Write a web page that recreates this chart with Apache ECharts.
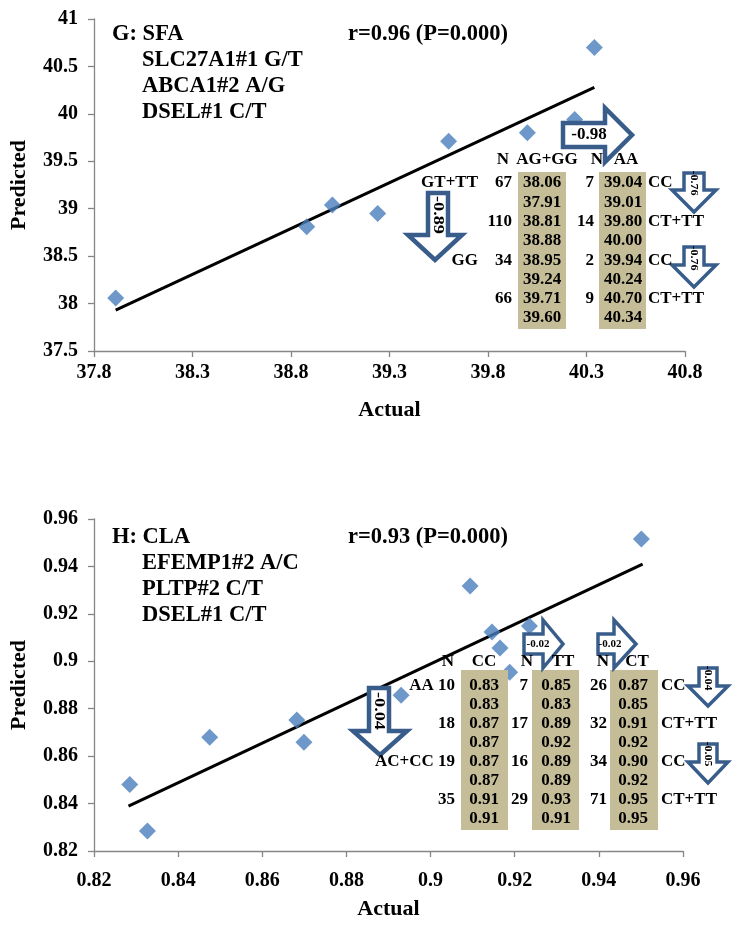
<!DOCTYPE html>
<html>
<head>
<meta charset="utf-8">
<script src="https://cdn.jsdelivr.net/npm/echarts@6/dist/echarts.min.js"></script>
<style>html,body{margin:0;padding:0;background:#fff}#c{width:732px;height:925px}</style>
</head>
<body>
<div id="c"></div>
<script>
// ---------- DATA ----------
// Panel G (SFA)
const gActual    = [37.91, 38.88, 39.24, 39.60, 39.01, 40.00, 40.24, 40.34];
const gPredicted = [38.06, 38.81, 38.95, 39.71, 39.04, 39.80, 39.94, 40.70];
const gFit       = [[37.91, 37.93], [40.34, 40.28]];
const gTitle     = ['G: SFA', 'SLC27A1#1 G/T', 'ABCA1#2 A/G', 'DSEL#1 C/T'];
const gStat      = 'r=0.96 (P=0.000)';
const gHeader    = ['N', 'AG+GG', 'N', 'AA'];
const gLeftLab   = ['GT+TT', '', 'GG', ''];
const gN1        = ['67', '110', '34', '66'];
const gCol1      = ['38.06', '37.91', '38.81', '38.88', '38.95', '39.24', '39.71', '39.60'];
const gN2        = ['7', '14', '2', '9'];
const gCol2      = ['39.04', '39.01', '39.80', '40.00', '39.94', '40.24', '40.70', '40.34'];
const gRightLab  = ['CC', 'CT+TT', 'CC', 'CT+TT'];
const gArrowTxt  = ['-0.98', '-0.89', '-0.76', '-0.76'];

// Panel H (CLA)
const hActual    = [0.8285, 0.8327, 0.8475, 0.8682, 0.8699, 0.8930, 0.9094, 0.9146, 0.9165, 0.9188, 0.9235, 0.9501];
const hPredicted = [0.8480, 0.8284, 0.8680, 0.8752, 0.8659, 0.8857, 0.9317, 0.9123, 0.9056, 0.8954, 0.9149, 0.9516];
const hFit       = [[0.8282, 0.8389], [0.9504, 0.9410]];
const hTitle     = ['H: CLA', 'EFEMP1#2 A/C', 'PLTP#2 C/T', 'DSEL#1 C/T'];
const hStat      = 'r=0.93 (P=0.000)';
const hHeader    = ['N', 'CC', 'N', 'TT', 'N', 'CT'];
const hN1        = ['AA 10', '18', 'AC+CC 19', '35'];
const hCol1      = ['0.83', '0.83', '0.87', '0.87', '0.87', '0.87', '0.91', '0.91'];
const hN2        = ['7', '17', '16', '29'];
const hCol2      = ['0.85', '0.83', '0.89', '0.92', '0.89', '0.89', '0.93', '0.91'];
const hN3        = ['26', '32', '34', '71'];
const hCol3      = ['0.87', '0.85', '0.91', '0.92', '0.90', '0.92', '0.95', '0.95'];
const hRightLab  = ['CC', 'CT+TT', 'CC', 'CT+TT'];
const hArrowTxt  = ['-0.02', '-0.02', '-0.04', '-0.04', '-0.05'];

const xTitle = 'Actual';
const yTitle = 'Predicted';

// ---------- STYLE HELPERS ----------
const FF = '"Liberation Serif", "Times New Roman", serif';
const AX = '#868686';
const ARC = '#385d8a';
const TAN = '#c4bd97';

function txt(text, x, y, size, align, extra) {
  return Object.assign({
    type: 'text', x: x, y: y, z: 120,
    style: { text: text, fontSize: size, fontWeight: 'bold', fontFamily: FF, fill: '#000',
             textAlign: align || 'center', textVerticalAlign: 'middle' }
  }, extra || {});
}
function rotTxt(text, x, y, size, sc) {
  return txt(text, x, y, size, 'center', { rotation: -Math.PI / 2, scaleX: sc || 1 });
}
function rect(x0, y0, x1, y1) {
  return { type: 'rect', z: 90, shape: { x: x0, y: y0, width: x1 - x0, height: y1 - y0 },
           style: { fill: TAN } };
}
function rightArrow(x0, xh, xt, by0, by1, hy0, hy1, lw) {
  return { type: 'polygon', z: 110,
    shape: { points: [[x0, by0], [xh, by0], [xh, hy0], [xt, (hy0 + hy1) / 2], [xh, hy1], [xh, by1], [x0, by1]] },
    style: { fill: '#fff', stroke: ARC, lineWidth: lw, lineJoin: 'miter' } };
}
function downArrow(bx0, bx1, y0, yh, hx0, hx1, yt, lw) {
  return { type: 'polygon', z: 110,
    shape: { points: [[bx0, y0], [bx1, y0], [bx1, yh], [hx1, yh], [(hx0 + hx1) / 2, yt], [hx0, yh], [bx0, yh]] },
    style: { fill: '#fff', stroke: ARC, lineWidth: lw, lineJoin: 'miter' } };
}

const g = [];
// Titles
function titleBlock(lines, stat, y0) {
  g.push(txt(lines[0], 112, y0, 22.5, 'left'));
  for (let i = 1; i < lines.length; i++) g.push(txt(lines[i], 142, y0 + 26 * i, 22.5, 'left'));
  g.push(txt(stat, 348, y0, 22.5, 'left'));
}
titleBlock(gTitle, gStat, 34);
titleBlock(hTitle, hStat, 537);

// Table G
g.push(rect(518, 172, 566, 329));
g.push(rect(599, 172, 646, 329));
g.push(txt(gHeader[0], 503, 160, 17));
g.push(txt(gHeader[1], 547, 160, 17));
g.push(txt(gHeader[2], 597, 160, 17));
g.push(txt(gHeader[3], 626, 160, 17));
for (let i = 0; i < 8; i++) {
  const y = 183 + 19.3 * i;
  g.push(txt(gCol1[i], 542, y, 17));
  g.push(txt(gCol2[i], 623, y, 17));
}
for (let i = 0; i < 4; i++) {
  const y = 183 + 19.3 * 2 * i;
  if (gLeftLab[i]) g.push(txt(gLeftLab[i], 478, y, 17, 'right'));
  g.push(txt(gN1[i], 512, y, 17, 'right'));
  g.push(txt(gN2[i], 594, y, 17, 'right'));
  g.push(txt(gRightLab[i], 648, y, 17, 'left'));
}
// Arrows G
g.push(rightArrow(563, 605, 632, 123, 147, 108, 162, 4.5));
g.push(txt(gArrowTxt[0], 589, 135, 17));
g.push(downArrow(428, 448, 193, 235, 408, 462, 260, 4.5));
g.push(rotTxt(gArrowTxt[1], 438, 215, 14, 1.3));
g.push(downArrow(684, 704, 173, 190, 672, 716, 212, 3.5));
g.push(rotTxt(gArrowTxt[2], 694, 183, 11, 1.1));
g.push(downArrow(684, 704, 247, 265, 672, 716, 287, 3.5));
g.push(rotTxt(gArrowTxt[3], 694, 258, 11, 1.1));

// Table H
g.push(rect(461, 670, 508, 830));
g.push(rect(532, 670, 579, 830));
g.push(rect(610, 670, 658, 830));
const hHx = [448, 484, 527, 563, 603, 637];
for (let k = 0; k < 6; k++) g.push(txt(hHeader[k], hHx[k], 662, 17));
for (let i = 0; i < 8; i++) {
  const y = 686 + 19 * i;
  g.push(txt(hCol1[i], 484, y, 17));
  g.push(txt(hCol2[i], 556, y, 17));
  g.push(txt(hCol3[i], 633, y, 17));
}
for (let i = 0; i < 4; i++) {
  const y = 686 + 38 * i;
  g.push(txt(hN1[i], 455, y, 17, 'right'));
  g.push(txt(hN2[i], 528, y, 17, 'right'));
  g.push(txt(hN3[i], 607, y, 17, 'right'));
  g.push(txt(hRightLab[i], 661, y, 17, 'left'));
}
// Arrows H
g.push(rightArrow(524, 543, 563, 634, 654, 620, 668, 3.5));
g.push(txt(hArrowTxt[0], 538, 644, 11));
g.push(rightArrow(598, 614, 636, 634, 654, 620, 668, 3.5));
g.push(txt(hArrowTxt[1], 610, 644, 11));
g.push(downArrow(369, 389, 688, 731, 353, 407, 755, 4.5));
g.push(rotTxt(hArrowTxt[2], 379, 711, 14, 1.3));
g.push(downArrow(699, 717, 668, 686, 688, 728, 706, 3.5));
g.push(rotTxt(hArrowTxt[3], 708, 678, 11, 1.1));
g.push(downArrow(699, 717, 744, 762, 688, 728, 783, 3.5));
g.push(rotTxt(hArrowTxt[4], 708, 754, 11, 1.1));

// ---------- AXES ----------
const lblStyle = { color: '#000', fontSize: 20, fontWeight: 'bold', fontFamily: FF };
const nameStyle = { color: '#000', fontSize: 22, fontWeight: 'bold', fontFamily: FF };
function xAx(idx, min, max, step, dec, margin, gap) {
  return { type: 'value', gridIndex: idx, min: min, max: max, interval: step,
    name: xTitle, nameLocation: 'middle', nameGap: gap, nameTextStyle: nameStyle,
    axisLine: { show: true, lineStyle: { color: AX, width: 1.3 } },
    axisTick: { show: true, length: 6, lineStyle: { color: AX, width: 1.3 } },
    splitLine: { show: false },
    axisLabel: Object.assign({ margin: margin, formatter: v => String(+(+v).toFixed(dec)) }, lblStyle) };
}
function yAx(idx, min, max, step, dec) {
  return { type: 'value', gridIndex: idx, min: min, max: max, interval: step,
    name: yTitle, nameLocation: 'middle', nameGap: 64, nameRotate: 90, nameTextStyle: nameStyle,
    axisLine: { show: true, lineStyle: { color: AX, width: 1.3 } },
    axisTick: { show: true, length: 6, lineStyle: { color: AX, width: 1.3 } },
    splitLine: { show: false },
    axisLabel: Object.assign({ margin: 16, formatter: v => String(+(+v).toFixed(dec)) }, lblStyle) };
}

const pairs = (xs, ys) => xs.map((x, i) => [x, ys[i]]);

const option = {
  animation: false,
  backgroundColor: '#fff',
  grid: [
    { left: 89, top: 19, width: 596, height: 332 },
    { left: 88, top: 519, width: 595, height: 332 }
  ],
  xAxis: [xAx(0, 37.8, 40.8, 0.5, 1, 12, 48), xAx(1, 0.82, 0.96, 0.02, 2, 20, 47)],
  yAxis: [yAx(0, 37.5, 41, 0.5, 1), yAx(1, 0.82, 0.96, 0.02, 2)],
  series: [
    { type: 'line', xAxisIndex: 0, yAxisIndex: 0, data: gFit, symbol: 'none',
      lineStyle: { color: '#000', width: 3 }, z: 3 },
    { type: 'scatter', xAxisIndex: 0, yAxisIndex: 0, data: pairs(gActual, gPredicted),
      symbol: 'diamond', symbolSize: [17, 17], itemStyle: { color: '#4a7ebb' }, z: 4 },
    { type: 'line', xAxisIndex: 1, yAxisIndex: 1, data: hFit, symbol: 'none',
      lineStyle: { color: '#000', width: 3 }, z: 3 },
    { type: 'scatter', xAxisIndex: 1, yAxisIndex: 1, data: pairs(hActual, hPredicted),
      symbol: 'diamond', symbolSize: [17, 17], itemStyle: { color: '#4a7ebb' }, z: 4 }
  ],
  graphic: g
};
const chart = echarts.init(document.getElementById('c'), null, { renderer: 'canvas' });
chart.setOption(option);
</script>
</body>
</html>
